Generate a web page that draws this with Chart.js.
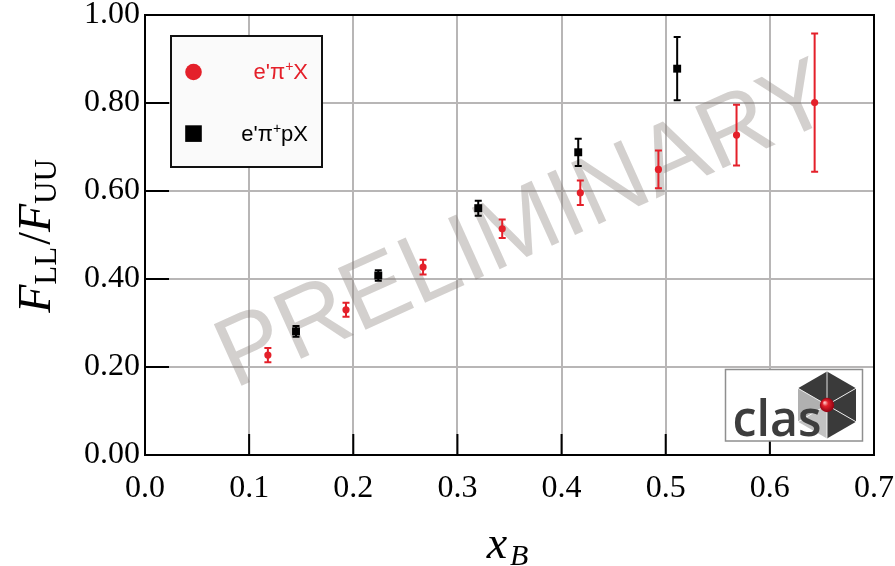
<!DOCTYPE html>
<html><head><meta charset="utf-8">
<script src="https://cdn.jsdelivr.net/npm/chart.js@4"></script>
<style>html,body{margin:0;padding:0;background:#fff;overflow:hidden}#c{display:block}</style>
</head><body>
<canvas id="c" width="895" height="566"></canvas>
<script>
// ---- data ----
const xTickLabels = ['0.0','0.1','0.2','0.3','0.4','0.5','0.6','0.7'];
const yTickLabels = ['0.00','0.20','0.40','0.60','0.80','1.00'];
const redName = "e'π+X";
const blackName = "e'π+pX";
const redX   = [0.118, 0.193, 0.267, 0.343, 0.418, 0.493, 0.568, 0.643];
const redY   = [0.227, 0.330, 0.427, 0.514, 0.596, 0.649, 0.727, 0.801];
const redErr = [0.016, 0.016, 0.017, 0.021, 0.028, 0.043, 0.069, 0.157];
const blackX   = [0.145, 0.224, 0.320, 0.416, 0.511];
const blackY   = [0.281, 0.408, 0.561, 0.688, 0.878];
const blackErr = [0.012, 0.012, 0.017, 0.031, 0.072];
const watermarkText = 'PRELIMINARY';
const logoText = 'clas';

const RED = '#e4202a';
const BLACK = '#000000';
const GRID = '#b8b6b6';

function pts(xs, ys){ return xs.map((v,i)=>({x:v,y:ys[i]})); }

function drawErr(ctx, xs, ys, es, color, sx, sy){
  ctx.save();
  ctx.strokeStyle = color; ctx.lineWidth = 2;
  for (let i=0;i<xs.length;i++){
    const px = sx.getPixelForValue(xs[i]);
    const p1 = sy.getPixelForValue(ys[i]-es[i]);
    const p2 = sy.getPixelForValue(ys[i]+es[i]);
    ctx.beginPath();
    ctx.moveTo(px,p1); ctx.lineTo(px,p2);
    ctx.moveTo(px-3.5,p1); ctx.lineTo(px+3.5,p1);
    ctx.moveTo(px-3.5,p2); ctx.lineTo(px+3.5,p2);
    ctx.stroke();
  }
  ctx.restore();
}

function drawParts(ctx, xRight, yBase, parts, color){
  ctx.save();
  ctx.fillStyle = color; ctx.textBaseline = 'alphabetic'; ctx.textAlign='left';
  let w = 0;
  parts.forEach(p=>{ ctx.font = p.f; w += ctx.measureText(p.t).width; });
  let x = xRight - w;
  parts.forEach(p=>{ ctx.font = p.f; ctx.fillText(p.t, x, yBase + (p.dy||0)); x += ctx.measureText(p.t).width; });
  ctx.restore();
}

function legendParts(name){
  const i = name.indexOf('+');
  const f = '22px "Liberation Sans"';
  return [{t:name.slice(0,i), f},{t:'+', f:'14px "Liberation Sans"', dy:-8},{t:name.slice(i+1), f}];
}

function noPad(s){ s.paddingTop = 0; s.paddingBottom = 0; s.paddingLeft = 0; s.paddingRight = 0; }

const decor = {
  id:'decor',
  beforeDatasetsDraw(chart){
    const {ctx, chartArea:a, scales:{x,y}} = chart;
    ctx.save();
    ctx.beginPath(); ctx.rect(a.left,a.top,a.right-a.left,a.bottom-a.top); ctx.clip();
    ctx.translate(a.left+380, a.top+213);
    ctx.rotate(-24.3*Math.PI/180);
    ctx.font = '98px "Liberation Sans"';
    ctx.fillStyle = 'rgba(130,120,115,0.35)';
    ctx.textAlign='center'; ctx.textBaseline='middle';
    ctx.fillText(watermarkText,0,0);
    ctx.restore();
    drawErr(ctx, redX, redY, redErr, RED, x, y);
    drawErr(ctx, blackX, blackY, blackErr, BLACK, x, y);
  },
  afterDatasetsDraw(chart){
    const {ctx, chartArea:a, scales:{x,y}} = chart;
    ctx.save();
    ctx.strokeStyle = '#000'; ctx.lineWidth = 2;
    ctx.beginPath();
    for (let v=1; v<=6; v++){ const px = x.getPixelForValue(v/10); ctx.moveTo(px,a.bottom); ctx.lineTo(px,a.bottom-21); }
    for (let v=1; v<=4; v++){ const py = y.getPixelForValue(v/5); ctx.moveTo(a.left,py); ctx.lineTo(a.left+24,py); }
    ctx.stroke();
    ctx.strokeRect(a.left, a.top, a.right-a.left, a.bottom-a.top);

    // legend box
    const lx = a.left+26, ly = a.top+21, lw = 151, lh = 131;
    ctx.fillStyle = '#fafafa'; ctx.fillRect(lx,ly,lw,lh);
    ctx.strokeStyle = '#111'; ctx.lineWidth = 2; ctx.strokeRect(lx,ly,lw,lh);
    ctx.fillStyle = RED; ctx.beginPath(); ctx.arc(lx+22.5, ly+36, 8.3, 0, Math.PI*2); ctx.fill();
    ctx.fillStyle = BLACK; ctx.fillRect(lx+14.2, ly+89.3, 16.6, 16.6);
    drawParts(ctx, lx+137, ly+43, legendParts(redName), RED);
    drawParts(ctx, lx+137, ly+105, legendParts(blackName), BLACK);

    // logo
    const bx = a.left+580.5, by = a.top+354.5, bw = 137, bh = 71.5;
    ctx.fillStyle = '#fff'; ctx.fillRect(bx,by,bw,bh);
    ctx.strokeStyle = '#8f8f8f'; ctx.lineWidth = 1.5; ctx.strokeRect(bx,by,bw,bh);
    const cx = bx+101.5, cy = by+35.5, R = 33.5;
    const ang = k => (-90 + 60*k) * Math.PI/180;
    const colors = ['#3a3a3a','#3a3a3a','#3a3a3a','#c2c2c2','#b0b0b0','#3a3a3a'];
    for (let k=0;k<6;k++){
      ctx.beginPath(); ctx.moveTo(cx,cy);
      ctx.lineTo(cx+R*Math.cos(ang(k)), cy+R*Math.sin(ang(k)));
      ctx.lineTo(cx+R*Math.cos(ang(k+1)), cy+R*Math.sin(ang(k+1)));
      ctx.closePath(); ctx.fillStyle = colors[k]; ctx.fill();
    }
    ctx.strokeStyle = 'rgba(255,255,255,0.85)'; ctx.lineWidth = 1;
    ctx.beginPath();
    for (let k=0;k<6;k++){ ctx.moveTo(cx,cy); ctx.lineTo(cx+R*Math.cos(ang(k)), cy+R*Math.sin(ang(k))); }
    ctx.stroke();
    ctx.fillStyle = '#3d3d3d';
    ctx.font = '600 51px "Open Sans"'; ctx.textBaseline='alphabetic'; ctx.textAlign='left';
    ctx.fillText(logoText, bx+7, by+66.5, 89);
    const g = ctx.createRadialGradient(cx-2.5, cy-2.5, 0.5, cx, cy, 7.5);
    g.addColorStop(0,'#ffc0c0'); g.addColorStop(0.35,'#e3202a'); g.addColorStop(1,'#8c0010');
    ctx.fillStyle = g; ctx.beginPath(); ctx.arc(cx, cy, 7.2, 0, Math.PI*2); ctx.fill();
    ctx.restore();
  },
  afterDraw(chart){
    const {ctx, chartArea:a} = chart;
    ctx.save();
    ctx.fillStyle = '#000'; ctx.textBaseline = 'alphabetic'; ctx.textAlign = 'left';
    const big = 'italic 46px "Liberation Serif"', rom = '46px "Liberation Serif"', sub = '31px "Liberation Serif"';
    const parts = [{t:'F',f:big},{t:'LL',f:sub,dy:6},{t:'/',f:rom,dx:2},{t:'F',f:big},{t:'UU',f:sub,dy:6}];
    let W = 0; parts.forEach(p=>{ctx.font=p.f; W += ctx.measureText(p.t).width + (p.dx||0);});
    ctx.translate(50, (a.top+a.bottom)/2 + 1 + W/2);
    ctx.rotate(-Math.PI/2);
    let xx = 0;
    parts.forEach(p=>{ ctx.font=p.f; xx += (p.dx||0); ctx.fillText(p.t, xx, p.dy||0); xx += ctx.measureText(p.t).width; });
    ctx.setTransform(1,0,0,1,0,0);
    const xp = [{t:'x',f:'italic 46px "Liberation Serif"'},{t:'B',f:'italic 30px "Liberation Serif"',dy:7,dx:3}];
    W = 0; xp.forEach(p=>{ctx.font=p.f; W += ctx.measureText(p.t).width + (p.dx||0);});
    xx = (a.left+a.right)/2 - W/2 - 2;
    xp.forEach(p=>{ ctx.font=p.f; xx += (p.dx||0); ctx.fillText(p.t, xx, 558+(p.dy||0)); xx += ctx.measureText(p.t).width; });
    ctx.restore();
  }
};

new Chart(document.getElementById('c'), {
  type: 'scatter',
  data: { datasets: [
    { label: redName, data: pts(redX, redY), pointStyle:'circle', pointRadius:3.6, pointBorderWidth:0, backgroundColor:RED, borderColor:RED },
    { label: blackName, data: pts(blackX, blackY), pointStyle:'rect', pointRadius:5.6, pointBorderWidth:0, backgroundColor:BLACK, borderColor:BLACK }
  ]},
  options: {
    responsive:false, animation:false, devicePixelRatio:1,
    layout:{ padding:{ left:0, right:21, top:15, bottom:0 } },
    plugins:{ legend:{display:false}, tooltip:{enabled:false}, title:{display:false} },
    scales:{
      x:{ type:'linear', min:0, max:0.7,
        afterFit(s){ s.height = 111; noPad(s); },
        grid:{ color:GRID, lineWidth:2, drawTicks:false },
        border:{ display:false },
        ticks:{ stepSize:0.1, padding:14, color:'#000', font:{family:'"Liberation Serif"', size:32},
                callback:(v,i)=>xTickLabels[i] } },
      y:{ type:'linear', min:0, max:1,
        afterFit(s){ s.width = 145; noPad(s); },
        grid:{ color:GRID, lineWidth:2, drawTicks:false },
        border:{ display:false },
        ticks:{ stepSize:0.2, padding:5, color:'#000', font:{family:'"Liberation Serif"', size:32},
                callback:(v,i)=>yTickLabels[i] } }
    }
  },
  plugins:[decor]
});
</script>
</body></html>
